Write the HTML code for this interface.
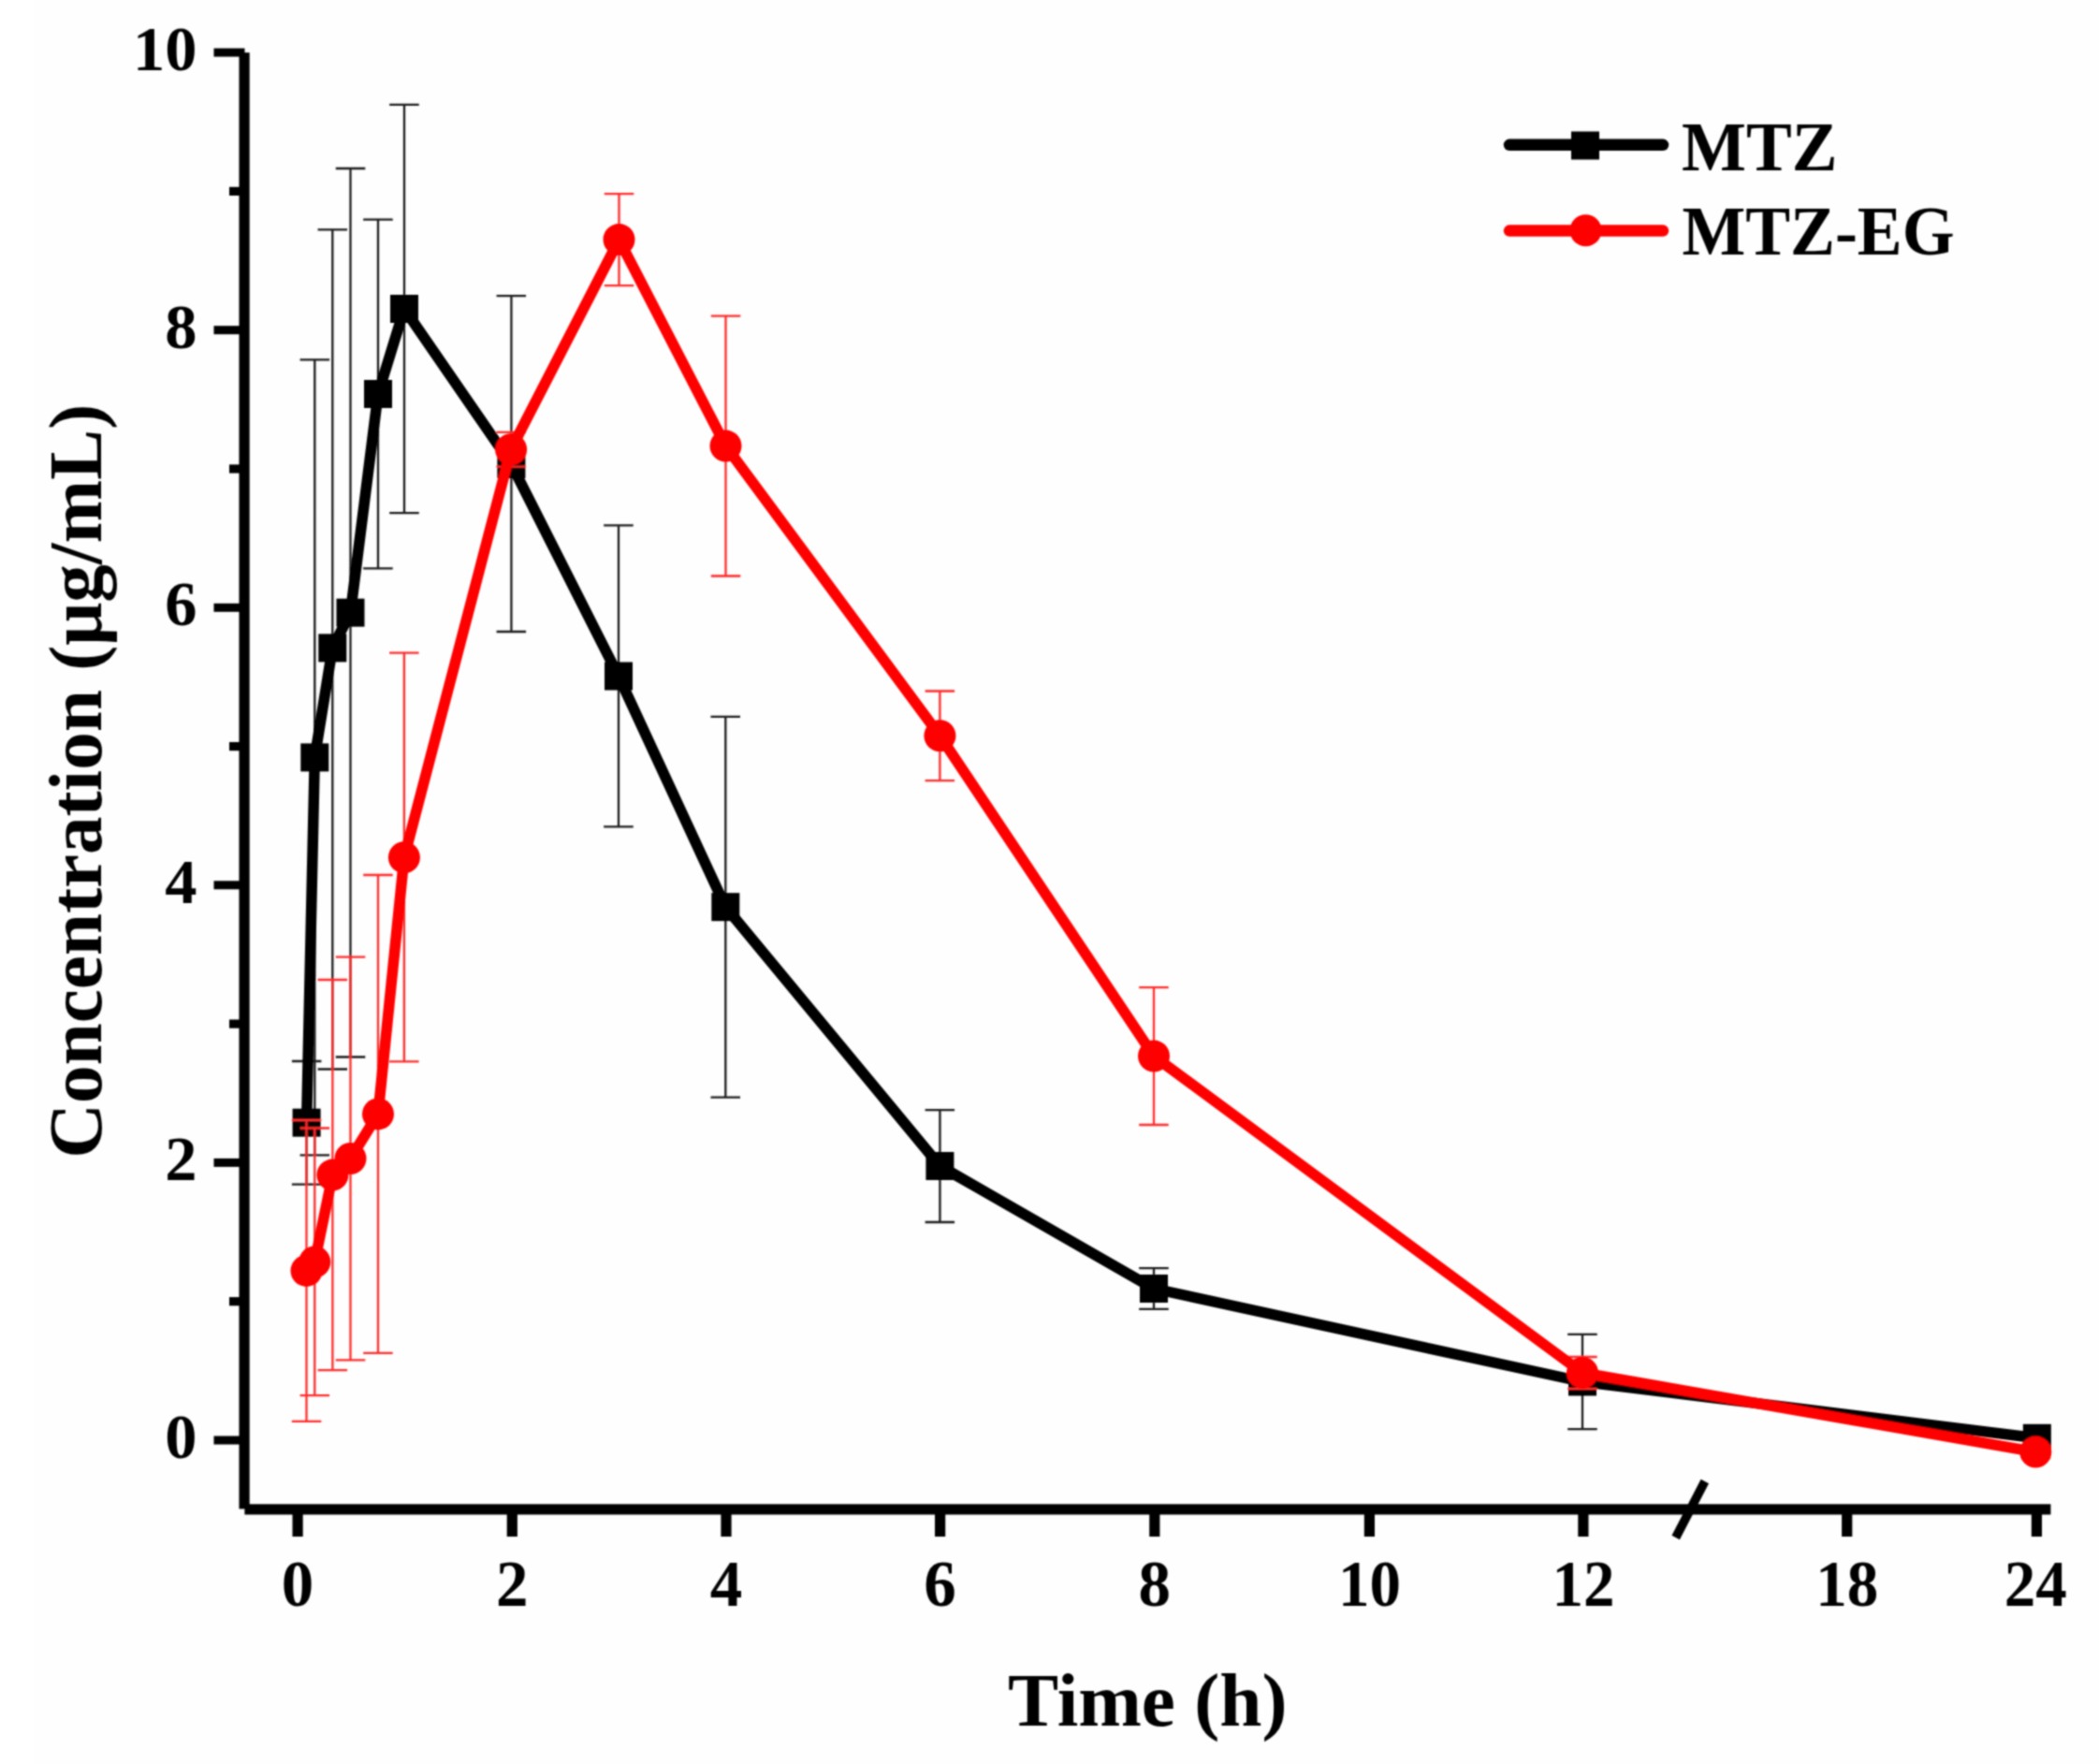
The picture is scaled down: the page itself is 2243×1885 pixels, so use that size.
<!DOCTYPE html>
<html><head><meta charset="utf-8"><title>Concentration vs Time</title>
<style>
html,body{margin:0;padding:0;background:#fefefe;}
body{width:2243px;height:1885px;overflow:hidden;}
svg{display:block;}
text{font-family:"Liberation Serif","Times New Roman",serif;font-weight:bold;fill:#000;}
</style></head><body>
<svg width="2243" height="1885" viewBox="0 0 2243 1885">
<defs><filter id="soft" x="0" y="0" width="100%" height="100%" filterUnits="userSpaceOnUse"><feConvolveMatrix order="5" kernelMatrix="0.0005 0.0050 0.0109 0.0050 0.0005 0.0050 0.0522 0.1141 0.0522 0.0050 0.0109 0.1141 0.2491 0.1141 0.0109 0.0050 0.0522 0.1141 0.0522 0.0050 0.0005 0.0050 0.0109 0.0050 0.0005" preserveAlpha="false" edgeMode="duplicate"/></filter></defs>
<rect x="0" y="0" width="2243" height="1885" fill="#fefefe"/>
<g filter="url(#soft)">
<rect x="0" y="0" width="36" height="1885" fill="#ffffff"/>

<g fill="#000">
<rect x="255.5" y="56.2" width="11.2" height="1556.2"/>
<rect x="261.4" y="1607.3" width="1930" height="11.2"/>
<rect x="228.5" y="1534.5" width="33" height="9"/>
<rect x="228.5" y="1237.9" width="33" height="9"/>
<rect x="228.5" y="941.3" width="33" height="9"/>
<rect x="228.5" y="644.8" width="33" height="9"/>
<rect x="228.5" y="348.2" width="33" height="9"/>
<rect x="228.5" y="51.6" width="33" height="9"/>
<rect x="245" y="1386.1" width="14" height="9.2"/>
<rect x="245" y="1089.5" width="14" height="9.2"/>
<rect x="245" y="793.0" width="14" height="9.2"/>
<rect x="245" y="496.4" width="14" height="9.2"/>
<rect x="245" y="199.8" width="14" height="9.2"/>
<rect x="312.5" y="1612" width="11.2" height="30"/>
<rect x="541.7" y="1612" width="11.2" height="30"/>
<rect x="770.4" y="1612" width="11.2" height="30"/>
<rect x="999.0" y="1612" width="11.2" height="30"/>
<rect x="1228.2" y="1612" width="11.2" height="30"/>
<rect x="1457.8" y="1612" width="11.2" height="30"/>
<rect x="1686.3" y="1612" width="11.2" height="30"/>
<rect x="1968.1" y="1612" width="11.2" height="30"/>
<rect x="2170.8" y="1612" width="11.2" height="30"/>
</g>
<line x1="1790.7" y1="1643" x2="1821.8" y2="1583" stroke="#000" stroke-width="9.5"/>
<g font-size="69" text-anchor="middle">
<text x="318.1" y="1715.8">0</text>
<text x="547.3" y="1715.8">2</text>
<text x="776.0" y="1715.8">4</text>
<text x="1004.6" y="1715.8">6</text>
<text x="1233.8" y="1715.8">8</text>
<text x="1463.4" y="1715.8" textLength="67" lengthAdjust="spacingAndGlyphs">10</text>
<text x="1691.9" y="1715.8" textLength="67" lengthAdjust="spacingAndGlyphs">12</text>
<text x="1973.7" y="1715.8" textLength="67" lengthAdjust="spacingAndGlyphs">18</text>
<text x="2175.2" y="1715.8" textLength="67" lengthAdjust="spacingAndGlyphs">24</text>
</g>
<g font-size="68.5" text-anchor="end">
<text x="210.5" y="1558.0">0</text>
<text x="210.5" y="1261.4">2</text>
<text x="210.5" y="964.8">4</text>
<text x="210.5" y="668.3">6</text>
<text x="210.5" y="371.7">8</text>
<text x="210.5" y="75.1">10</text>
</g>
<text x="1077" y="1844.2" font-size="81.2">Time (h)</text>
<text transform="translate(108.2 1237.7) rotate(-90)" x="0" y="0" font-size="81.2">Concentration (μg/mL)</text>
<path d="M327.6 1134.0V1265.6M311.9 1134.0h31.5M311.9 1265.6h31.5M336.3 384.3V1234.4M320.6 384.3h31.5M320.6 1234.4h31.5M355.3 245.3V1142.5M339.6 245.3h31.5M339.6 1142.5h31.5M374.5 180.0V1129.5M358.8 180.0h31.5M358.8 1129.5h31.5M404.0 234.6V607.3M388.2 234.6h31.5M388.2 607.3h31.5M432.0 111.9V548.2M416.2 111.9h31.5M416.2 548.2h31.5M546.4 316.1V675.0M530.6 316.1h31.5M530.6 675.0h31.5M661.0 561.3V883.3M645.2 561.3h31.5M645.2 883.3h31.5M775.3 765.8V1172.7M759.5 765.8h31.5M759.5 1172.7h31.5M1004.4 1186.1V1306.0M988.6 1186.1h31.5M988.6 1306.0h31.5M1233.0 1355.1V1398.8M1217.2 1355.1h31.5M1217.2 1398.8h31.5M1691.0 1425.9V1527.1M1675.2 1425.9h31.5M1675.2 1527.1h31.5" stroke="#1a1a1a" stroke-width="2.3" fill="none"/>
<polyline points="327.6,1199.7 336.3,809.4 355.3,692.4 374.5,654.7 404.0,421.0 432.0,330.0 546.4,496.0 661.0,722.5 775.3,969.2 1004.4,1246.0 1233.0,1377.0 1691.0,1476.5 2176.8,1536.8" stroke="#000" stroke-width="11.5" fill="none" stroke-linejoin="round"/>
<g fill="#000">
<rect x="312.6" y="1184.7" width="30" height="30"/>
<rect x="321.3" y="794.4" width="30" height="30"/>
<rect x="340.3" y="677.4" width="30" height="30"/>
<rect x="359.5" y="639.7" width="30" height="30"/>
<rect x="389.0" y="406.0" width="30" height="30"/>
<rect x="417.0" y="315.0" width="30" height="30"/>
<rect x="531.4" y="481.0" width="30" height="30"/>
<rect x="646.0" y="707.5" width="30" height="30"/>
<rect x="760.3" y="954.2" width="30" height="30"/>
<rect x="989.4" y="1231.0" width="30" height="30"/>
<rect x="1218.0" y="1362.0" width="30" height="30"/>
<rect x="1676.0" y="1461.5" width="30" height="30"/>
<rect x="2161.8" y="1521.8" width="30" height="30"/>
</g>
<path d="M327.5 1197.0V1518.8M311.8 1197.0h31.5M311.8 1518.8h31.5M336.3 1205.5V1491.2M320.6 1205.5h31.5M320.6 1491.2h31.5M355.4 1047.0V1464.1M339.6 1047.0h31.5M339.6 1464.1h31.5M374.5 1022.7V1453.4M358.8 1022.7h31.5M358.8 1453.4h31.5M404.0 935.0V1445.8M388.2 935.0h31.5M388.2 1445.8h31.5M431.9 697.6V1134.4M416.1 697.6h31.5M416.1 1134.4h31.5M546.1 461.8V498.6M530.4 461.8h31.5M530.4 498.6h31.5M661.5 207.1V305.2M645.8 207.1h31.5M645.8 305.2h31.5M775.5 337.6V615.5M759.8 337.6h31.5M759.8 615.5h31.5M1004.4 738.5V834.1M988.6 738.5h31.5M988.6 834.1h31.5M1233.0 1055.2V1202.0M1217.2 1055.2h31.5M1217.2 1202.0h31.5M1691.0 1450.0V1484.0M1675.2 1450.0h31.5M1675.2 1484.0h31.5M2175.3 1545.0V1558.0M2159.6 1545.0h31.5M2159.6 1558.0h31.5" stroke="#ff2a2a" stroke-width="2.3" fill="none"/>
<polyline points="327.5,1357.9 336.3,1348.4 355.4,1255.6 374.5,1238.0 404.0,1190.4 431.9,916.2 546.1,480.2 661.5,256.1 775.5,476.6 1004.4,786.3 1233.0,1128.6 1691.0,1467.0 2175.3,1551.6" stroke="#ff0000" stroke-width="11.5" fill="none" stroke-linejoin="round"/>
<g fill="#ff0000">
<circle cx="327.5" cy="1357.9" r="17.0"/>
<circle cx="336.3" cy="1348.4" r="17.0"/>
<circle cx="355.4" cy="1255.6" r="17.0"/>
<circle cx="374.5" cy="1238.0" r="17.0"/>
<circle cx="404.0" cy="1190.4" r="17.0"/>
<circle cx="431.9" cy="916.2" r="17.0"/>
<circle cx="546.1" cy="480.2" r="17.0"/>
<circle cx="661.5" cy="256.1" r="17.0"/>
<circle cx="775.5" cy="476.6" r="17.0"/>
<circle cx="1004.4" cy="786.3" r="17.0"/>
<circle cx="1233.0" cy="1128.6" r="17.0"/>
<circle cx="1691.0" cy="1467.0" r="17.0"/>
<circle cx="2175.3" cy="1551.6" r="17.0"/>
</g>
<line x1="1613" y1="154.8" x2="1777" y2="154.8" stroke="#000" stroke-width="12.5" stroke-linecap="round"/>
<rect x="1679" y="140.5" width="30" height="30" fill="#000"/>
<line x1="1613" y1="246.6" x2="1777" y2="246.6" stroke="#ff0000" stroke-width="12.5" stroke-linecap="round"/>
<circle cx="1694.5" cy="246.3" r="17" fill="#ff0000"/>
<text x="1797" y="181.8" font-size="74" textLength="166.5" lengthAdjust="spacingAndGlyphs">MTZ</text>
<text x="1797.5" y="271.9" font-size="74" textLength="291" lengthAdjust="spacingAndGlyphs">MTZ-EG</text>
</g></svg>
</body></html>
